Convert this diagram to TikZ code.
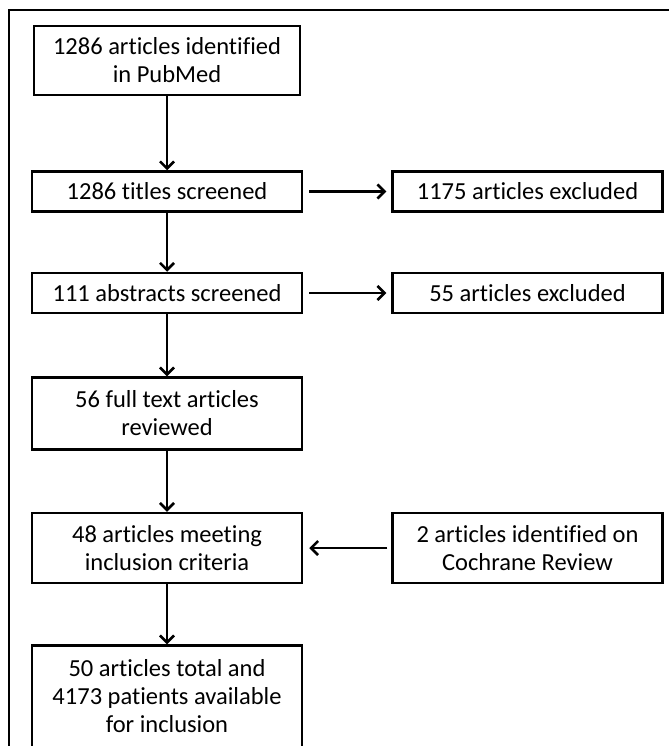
\documentclass[tikz,border=0pt]{standalone}
\usepackage{fontspec}
\setmainfont{Carlito}[Ligatures={NoCommon,NoContextual,NoRequired}, Contextuals=NoAlternate]
\usetikzlibrary{arrows.meta, positioning}

\begin{document}
\begin{tikzpicture}[
    x=1pt, y=1pt,
    node distance=60pt and 88pt,
    font=\fontsize{24.5}{28}\selectfont,
    stepbox/.style={rectangle, draw=black, line width=2.5pt, text centered, align=center, minimum width=270pt, minimum height=40pt, inner sep=0pt},
    twoline/.style={stepbox, minimum height=70pt},
    threeline/.style={stepbox, minimum height=102pt},
    arrow/.style={line width=2.5pt, -{Straight Barb[length=7pt, width=14pt]}}
]

% Canvas and frame
\useasboundingbox (0,0) rectangle (669,-746);
\draw [line width=2.8pt] (9,-746) -- (9,-10) -- (669,-10);

% Nodes
\node (pubmed) [twoline, minimum width=266pt, minimum height=69pt] at (167,-60.5) {1286 articles identified\\in PubMed};
\node (titles) [stepbox, below=74pt of pubmed] {1286 titles screened};
\node (abstracts) [stepbox, below=59pt of titles] {111 abstracts screened};
\node (fulltext) [twoline, minimum height=72pt, below=62pt of abstracts] {56 full text articles\\reviewed};
\node (meeting) [twoline, below=61pt of fulltext] {48 articles meeting\\inclusion criteria};
\node (total) [threeline, below=of meeting] {50 articles total and\\4173 patients available\\for inclusion};
\node (excl1) [stepbox, right=of titles] {1175 articles excluded};
\node (excl2) [stepbox, right=of abstracts] {55 articles excluded};
\node (cochrane) [twoline, right=of meeting] {2 articles identified on\\Cochrane Review};

% Connections
\draw [arrow] (pubmed) -- (titles);
\draw [arrow] (titles) -- (abstracts);
\draw [arrow] (abstracts) -- (fulltext);
\draw [arrow] (fulltext) -- (meeting);
\draw [arrow] (meeting) -- (total);
\draw [arrow, shorten <=6pt, shorten >=5pt] (titles) -- (excl1);
\draw [arrow, shorten <=6pt, shorten >=5pt] (abstracts) -- (excl2);
\draw [arrow, shorten <=4pt, shorten >=6pt] (cochrane) -- (meeting);

\end{tikzpicture}
\end{document}
